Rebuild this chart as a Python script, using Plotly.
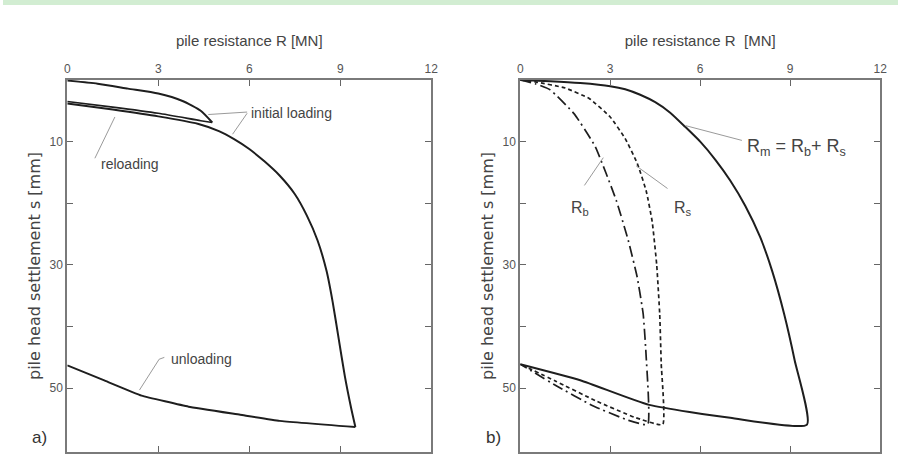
import plotly.graph_objects as go

# ---------------- data (R in MN, s in mm) ----------------
# panel a)
a_initial_R = [0, 1, 2, 3, 3.8, 4.4, 4.78]
a_initial_s = [0.1, 0.6, 1.4, 2.2, 3.4, 5.0, 6.9]
a_unload1_R = [4.78, 4.4, 3.0, 1.5, 0]
a_unload1_s = [6.9, 6.6, 5.4, 4.4, 3.5]
a_main_R = [0, 1.5, 3.0, 4.3, 5.0, 5.5, 6.0, 6.5, 7.0, 7.5, 7.9, 8.25, 8.55, 8.75, 8.95, 9.15, 9.35, 9.5]
a_main_s = [3.8, 4.8, 5.9, 7.1, 8.3, 9.6, 11.2, 13.2, 15.5, 18.5, 22.0, 26.0, 31.0, 36.0, 42.0, 48.0, 53.0, 56.3]
a_unload_R = [9.5, 7.0, 5.7, 4.0, 2.45, 1.2, 0]
a_unload_s = [56.3, 55.3, 54.3, 53.0, 51.2, 48.7, 46.3]

# panel b)
b_Rm_R = [0, 1, 2, 3, 3.5, 4.0, 4.5, 5.0, 5.5, 6.0, 6.5, 7.0, 7.5, 8.0, 8.4, 8.8, 9.15, 9.56, 7.0, 4.3, 2.0, 0]
b_Rm_s = [0, 0.2, 0.5, 1.0, 1.5, 2.4, 3.6, 5.3, 7.6, 10.0, 12.9, 16.3, 20.4, 25.5, 31.0, 38.0, 45.5, 55.9, 54.8, 52.7, 48.7, 46.1]
b_Rs_R = [0, 0.5, 1.5, 2.3, 3.0, 3.5, 3.9, 4.2, 4.4, 4.55, 4.65, 4.7, 4.75, 3.8, 2.5, 1.2, 0]
b_Rs_s = [0, 0.3, 1.3, 3.0, 6.0, 9.5, 13.5, 18.0, 23.0, 30.0, 38.0, 46.0, 55.9, 54.7, 52.0, 48.9, 46.1]
b_Rb_R = [0, 0.5, 1.0, 1.8, 2.5, 3.2, 3.6, 3.9, 4.1, 4.2, 4.25, 3.6, 2.4, 1.2, 0]
b_Rb_s = [0, 0.6, 1.6, 5.5, 10.8, 19.5, 26.0, 32.0, 38.0, 45.0, 55.9, 55.2, 52.8, 49.6, 46.1]

x_ticks = [0, 3, 6, 9, 12]
x_tick_labels = ["0", "3", "6", "9", "12"]
y_ticks = [10, 20, 30, 40, 50]
y_tick_labels = ["10", "", "30", "", "50"]

x_title_a = "pile resistance R [MN]"
x_title_b = "pile resistance R&nbsp; [MN]"
y_title = "pile head settlement s [mm]"

# ---------------- figure ----------------
LINE = "#1e1e1e"
FONT = "Liberation Sans, Arial, sans-serif"
WIDE = "DejaVu Sans, sans-serif"
fig = go.Figure()

def add(x, y, xa, ya, dash="solid", width=2.0, smooth=0.6):
    fig.add_trace(go.Scatter(x=x, y=y, xaxis=xa, yaxis=ya, mode="lines",
                             line=dict(color=LINE, width=width, dash=dash,
                                       shape="spline", smoothing=smooth),
                             showlegend=False, hoverinfo="skip"))

add(a_initial_R, a_initial_s, "x", "y")
add(a_unload1_R, a_unload1_s, "x", "y", width=1.6)
add(a_main_R, a_main_s, "x", "y")
add(a_unload_R, a_unload_s, "x", "y", smooth=0.3)

add(b_Rm_R, b_Rm_s, "x2", "y2", smooth=0.5)
add(b_Rs_R, b_Rs_s, "x2", "y2", dash="4px,3px", width=1.7, smooth=0.4)
add(b_Rb_R, b_Rb_s, "x2", "y2", dash="11px,4px,2px,4px", width=1.7, smooth=0.4)

axis_common = dict(showgrid=False, zeroline=False, showline=True, linecolor="#7a7a7a",
                   linewidth=2, ticks="inside", ticklen=6, tickwidth=1.2, tickcolor="#666",
                   mirror="ticks", tickfont=dict(size=12, color="#555", family=FONT))

xdom_a = [65 / 905, 433 / 905]
xdom_b = [523 / 905, 887 / 905]
ydom = [1 - 452 / 459, 1 - 80 / 459]

xt_font = dict(size=15, color="#444", family=FONT)
yt_font = dict(size=16, color="#444", family=WIDE)

fig.update_layout(
    width=905, height=459, margin=dict(l=0, r=0, t=0, b=0),
    paper_bgcolor="white", plot_bgcolor="white",
    font=dict(family=FONT, color="#444"),
    xaxis=dict(domain=xdom_a, range=[0, 12], side="top", tickvals=x_ticks, ticktext=x_tick_labels,
               anchor="y", title=dict(text=x_title_a, font=xt_font, standoff=12),
               **axis_common),
    yaxis=dict(domain=ydom, range=[60.35, 0], tickvals=y_ticks, ticktext=y_tick_labels, anchor="x",
               title=dict(text=y_title, font=yt_font, standoff=5),
               **axis_common),
    xaxis2=dict(domain=xdom_b, range=[0, 12], side="top", tickvals=x_ticks, ticktext=x_tick_labels,
                anchor="y2", title=dict(text=x_title_b, font=xt_font, standoff=12),
                **axis_common),
    yaxis2=dict(domain=ydom, range=[60.35, 0], tickvals=y_ticks, ticktext=y_tick_labels, anchor="x2",
                title=dict(text=y_title, font=yt_font, standoff=5),
                **axis_common),
)

# top green strip
fig.add_shape(type="rect", xref="paper", yref="paper", x0=0, x1=1, y0=1 - 5 / 459, y1=1,
              fillcolor="#d2edd2", line=dict(width=0), layer="below")

LEAD = dict(color="#9a9a9a", width=1)

def leader(xs, ys, xa, ya):
    fig.add_trace(go.Scatter(x=xs, y=ys, xaxis=xa, yaxis=ya, mode="lines", line=LEAD,
                             showlegend=False, hoverinfo="skip"))

def label(text, x, y, xa, ya, size=14, anchor="center"):
    fig.add_annotation(text=text, x=x, y=y, xref=xa, yref=ya, showarrow=False,
                       xanchor=anchor, yanchor="middle",
                       font=dict(size=size, color="#444", family=FONT))

# panel a labels
leader([5.93, 4.65], [5.2, 5.6], "x", "y")
leader([5.93, 5.45], [5.4, 8.8], "x", "y")
label("initial loading", 6.0, 5.4, "x", "y", anchor="left")
leader([0.91, 1.57], [12.7, 6.0], "x", "y")
label("reloading", 1.05, 13.6, "x", "y", anchor="left")
leader([3.2, 3.03, 2.38], [45.0, 45.3, 50.3], "x", "y")
label("unloading", 3.35, 45.2, "x", "y", anchor="left")

# panel b labels
leader([7.39, 5.51], [9.8, 7.4], "x2", "y2")
label("R<sub>m</sub> = R<sub>b</sub>+ R<sub>s</sub>", 7.5, 10.9, "x2", "y2", size=18, anchor="left")
leader([2.14, 2.77], [17.1, 12.6], "x2", "y2")
label("R<sub>b</sub>", 1.98, 20.9, "x2", "y2", size=16)
leader([4.91, 3.86], [17.6, 13.9], "x2", "y2")
label("R<sub>s</sub>", 5.41, 20.8, "x2", "y2", size=16)

# panel letters
fig.add_annotation(text="a)", x=37 / 905, y=1 - 437 / 459, xref="paper", yref="paper",
                   xanchor="center", yanchor="middle",
                   showarrow=False, font=dict(size=17, color="#333", family=FONT))
fig.add_annotation(text="b)", x=496 / 905, y=1 - 437 / 459, xref="paper", yref="paper",
                   xanchor="center", yanchor="middle",
                   showarrow=False, font=dict(size=17, color="#333", family=FONT))

fig.write_html("out.html", config={"displayModeBar": False},
               post_script="document.body.style.margin='0';document.body.style.padding='0';")
